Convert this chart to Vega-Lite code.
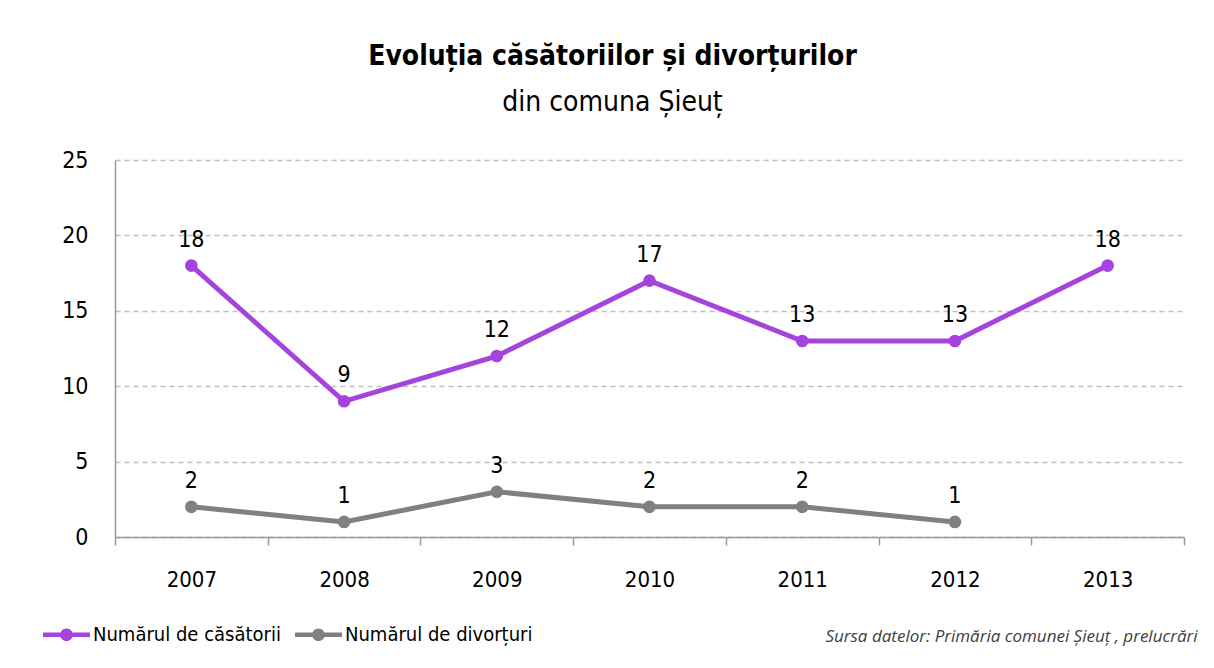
{
  "$schema": "https://vega.github.io/schema/vega-lite/v6.json",
  "width": 1069,
  "height": 377,
  "autosize": {"type": "none"},
  "padding": {"left": 115, "top": 160, "right": 30, "bottom": 131},
  "background": "white",
  "config": {
    "font": "Liberation Sans Narrow, DejaVu Sans Condensed, sans-serif",
    "view": {"stroke": null}
  },
  "title": {
    "text": "Evoluția căsătoriilor și divorțurilor",
    "subtitle": "din comuna Șieuț",
    "fontSize": 28,
    "fontWeight": "bold",
    "subtitleFontSize": 28,
    "subtitleFontWeight": "normal",
    "subtitleFont": "Liberation Sans Narrow, DejaVu Sans Condensed, sans-serif",
    "color": "#000000",
    "subtitleColor": "#000000",
    "anchor": "middle",
    "dx": -37,
    "offset": 32,
    "subtitlePadding": 18
  },
  "data": {
    "values": [
      {"year": 2007, "series": "Numărul de căsătorii", "value": 18},
      {"year": 2008, "series": "Numărul de căsătorii", "value": 9},
      {"year": 2009, "series": "Numărul de căsătorii", "value": 12},
      {"year": 2010, "series": "Numărul de căsătorii", "value": 17},
      {"year": 2011, "series": "Numărul de căsătorii", "value": 13},
      {"year": 2012, "series": "Numărul de căsătorii", "value": 13},
      {"year": 2013, "series": "Numărul de căsătorii", "value": 18},
      {"year": 2007, "series": "Numărul de divorțuri", "value": 2},
      {"year": 2008, "series": "Numărul de divorțuri", "value": 1},
      {"year": 2009, "series": "Numărul de divorțuri", "value": 3},
      {"year": 2010, "series": "Numărul de divorțuri", "value": 2},
      {"year": 2011, "series": "Numărul de divorțuri", "value": 2},
      {"year": 2012, "series": "Numărul de divorțuri", "value": 1}
    ]
  },
  "encoding": {
    "y": {
      "field": "value",
      "type": "quantitative",
      "scale": {"domain": [0, 25], "nice": false},
      "axis": {
        "values": [0, 5, 10, 15, 20, 25],
        "grid": true,
        "gridDash": [5, 4],
        "gridColor": "#c0c0c0",
        "gridWidth": 1.5,
        "domainColor": "#999999",
        "domainWidth": 1.5,
        "ticks": false,
        "labelPadding": 27,
        "labelFontSize": 23,
        "labelColor": "#000000",
        "title": null
      }
    }
  },
  "layer": [
    {
      "mark": {"type": "line", "strokeWidth": 5, "point": {"filled": true, "size": 160}},
      "encoding": {
        "x": {
          "field": "year",
          "type": "quantitative",
          "scale": {"domain": [2006.5, 2013.5], "nice": false, "zero": false},
          "axis": {
            "orient": "bottom",
            "values": [2006.5, 2007.5, 2008.5, 2009.5, 2010.5, 2011.5, 2012.5, 2013.5],
            "labels": false,
            "grid": false,
            "domainColor": "#999999",
            "domainWidth": 1.5,
            "tickColor": "#999999",
            "tickWidth": 1.5,
            "tickSize": 8,
            "title": null
          }
        },
        "color": {
          "field": "series",
          "type": "nominal",
          "scale": {
            "domain": ["Numărul de căsătorii", "Numărul de divorțuri"],
            "range": ["#A544DD", "#808080"]
          },
          "legend": {
            "orient": "none",
            "legendX": -72,
            "legendY": 451,
            "direction": "horizontal",
            "title": null,
            "labelFontSize": 20,
            "labelLimit": 400,
            "labelColor": "#000000",
            "labelOffset": 3,
            "columnPadding": 14,
            "symbolType": "M-1,-0.1H1V0.1H-1Z M-0.27,0A0.27,0.27 0 1,1 0.27,0A0.27,0.27 0 1,1 -0.27,0Z",
            "symbolSize": 2209,
            "symbolStrokeWidth": 0,
            "encode": {
              "symbols": {
                "update": {
                  "fill": {"scale": "color", "field": "value"},
                  "fillOpacity": {"value": 1},
                  "opacity": {"value": 1}
                }
              }
            }
          }
        }
      }
    },
    {
      "mark": {"type": "text", "dy": -14, "baseline": "bottom", "fontSize": 23, "color": "#000000"},
      "encoding": {
        "x": {
          "field": "year",
          "type": "quantitative",
          "scale": {"domain": [2006.5, 2013.5], "nice": false, "zero": false},
          "axis": {
            "orient": "bottom",
            "values": [2007, 2008, 2009, 2010, 2011, 2012, 2013],
            "format": "d",
            "ticks": false,
            "domain": false,
            "grid": false,
            "labelFontSize": 22,
            "labelColor": "#000000",
            "labelPadding": 32,
            "title": "Sursa datelor: Primăria comunei Șieuț , prelucrări",
            "titleFont": "Open Sans",
            "titleFontStyle": "italic",
            "titleFontWeight": "normal",
            "titleFontSize": 17,
            "titleColor": "#404040",
            "titleAnchor": "end",
            "titleAlign": "right",
            "titleX": 1082,
            "titlePadding": 38
          }
        },
        "text": {"field": "value", "type": "quantitative"}
      }
    }
  ],
  "resolve": {"axis": {"x": "independent"}}
}
